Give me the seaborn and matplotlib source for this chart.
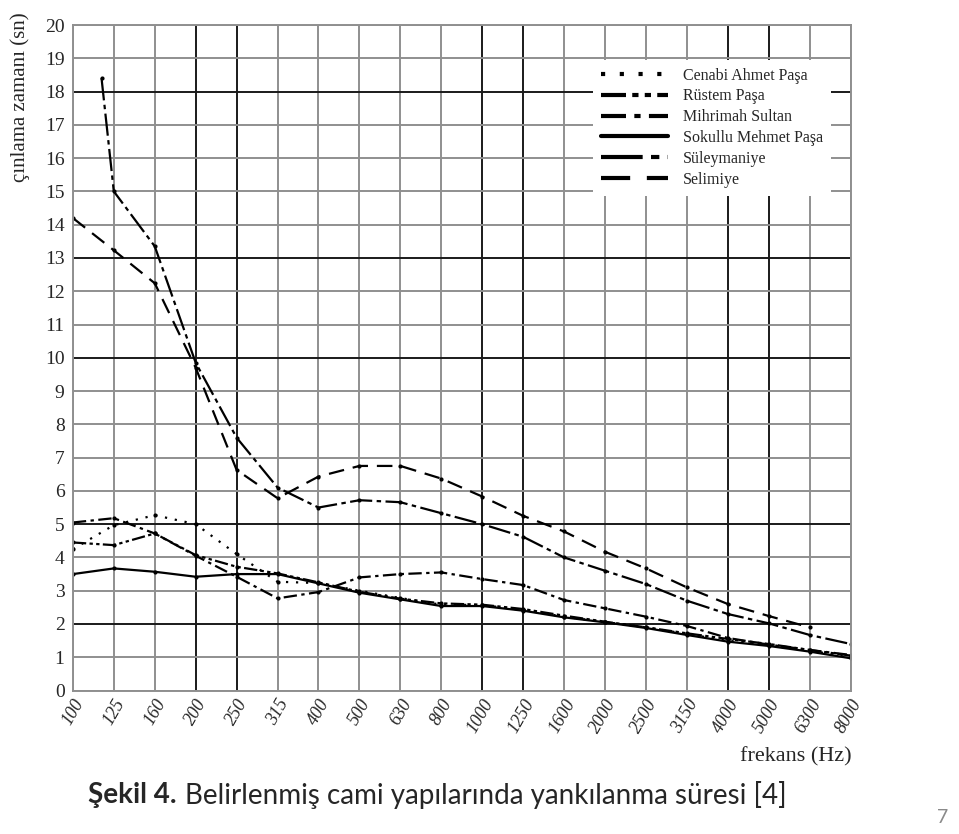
import numpy as np
import matplotlib.pyplot as plt
from matplotlib.lines import Line2D
import seaborn as sns

freqs = ['100', '125', '160', '200', '250', '315', '400', '500', '630', '800',
         '1000', '1250', '1600', '2000', '2500', '3150', '4000', '5000', '6300', '8000']

cenabi = [4.25, 4.97, 5.27, 5.0, 4.1, 3.27, 3.23, 3.0, 2.78, 2.58,
          2.57, 2.42, 2.22, 2.06, 1.9, 1.7, 1.5, 1.36, 1.2, 1.0]
rustem = [4.45, 4.37, 4.72, 4.07, 3.72, 3.52, 3.25, 2.97, 2.76, 2.62,
          2.58, 2.45, 2.25, 2.07, 1.9, 1.72, 1.55, 1.4, 1.22, 1.05]
mihrimah = [5.05, 5.18, 4.72, 4.05, 3.42, 2.77, 2.96, 3.4, 3.5, 3.55,
            3.35, 3.17, 2.72, 2.47, 2.22, 1.94, 1.58, 1.38, 1.22, 1.07]
sokullu = [3.5, 3.67, 3.57, 3.42, 3.5, 3.5, 3.22, 2.94, 2.74, 2.54,
           2.54, 2.4, 2.2, 2.05, 1.88, 1.67, 1.47, 1.34, 1.17, 0.97]
suleymaniye = [np.nan, 15.0, 13.35, 9.85, 7.6, 6.1, 5.5, 5.72, 5.66, 5.33,
               5.0, 4.62, 4.0, 3.6, 3.2, 2.7, 2.3, 2.02, 1.67, 1.4]
# the Süleymaniye curve starts part way between 100 and 125 Hz
suleymaniye_start_pos = 0.7
suleymaniye_start_val = 18.4
selimiye = [14.2, 13.23, 12.24, 9.7, 6.63, 5.78, 6.43, 6.75, 6.75, 6.37,
            5.83, 5.25, 4.78, 4.17, 3.67, 3.1, 2.6, 2.24, 1.9, np.nan]

names = ['Cenabi Ahmet Paşa', 'Rüstem Paşa', 'Mihrimah Sultan',
         'Sokullu Mehmet Paşa', 'Süleymaniye', 'Selimiye']
styles = [(0, (1, 3.5)), (0, (6, 1.5, 1.5, 1.5, 1.5, 1.5)), (0, (6, 2, 1.5, 2)),
          '-', (0, (10, 2, 2, 2)), (0, (7, 4))]

sns.set_style('white')
plt.rcParams['font.family'] = ['Liberation Serif', 'DejaVu Serif']

fig = plt.figure(figsize=(9.59, 8.34), dpi=100)
ax = fig.add_axes([0.076, 0.172, 0.811, 0.798])

pos = np.arange(len(freqs))
series = [cenabi, rustem, mihrimah, sokullu, suleymaniye, selimiye]
for name, vals, ls in zip(names, series, styles):
    x = list(pos)
    y = list(vals)
    if name == 'Süleymaniye':
        x = [suleymaniye_start_pos] + x[1:]
        y = [suleymaniye_start_val] + y[1:]
    sns.lineplot(x=x, y=y, ax=ax, color='black', linestyle=ls, lw=1.6,
                 marker='o', markersize=3, markeredgewidth=0, legend=False)

ax.set_xlim(0, len(freqs) - 1)
ax.set_ylim(0, 20)
ax.set_xticks(pos)
ax.set_xticklabels(freqs, rotation=60, ha='right', va='top',
                   rotation_mode='anchor', fontstyle='italic', fontsize=13)
ax.set_yticks(range(0, 21))
ax.tick_params(axis='y', labelsize=14, length=0, pad=6)
ax.tick_params(axis='x', length=0, pad=4)

dark_x = ['200', '250', '1000', '1250', '4000', '5000']
for i, f in enumerate(freqs):
    c = '#1a1a1a' if f in dark_x else '#8f8f8f'
    ax.axvline(i, color=c, lw=1.4, zorder=0)
for v in range(0, 21):
    c = '#1a1a1a' if v in (2, 5, 10, 13, 18) else '#8f8f8f'
    ax.axhline(v, color=c, lw=1.4, zorder=0)
for s in ax.spines.values():
    s.set_color('#8f8f8f')
    s.set_linewidth(1.4)

handles = [Line2D([], [], color='black', linestyle=ls, lw=3) for ls in styles]
leg = ax.legend(handles, names, loc='upper right', bbox_to_anchor=(0.985, 0.96),
                frameon=True, fancybox=False, edgecolor='white', framealpha=1,
                fontsize=11.5, handlelength=4.2, labelspacing=0.3,
                borderpad=0.5, handletextpad=0.9)
leg.get_frame().set_linewidth(0)

fig.text(0.021, 0.985, 'çınlama zamanı (sn)', rotation=90, ha='center', va='top',
         fontsize=15)
fig.text(0.888, 0.092, 'frekans (Hz)', ha='right', va='center', fontsize=16)

cap_font = ['Lato', 'DejaVu Sans']
bold = fig.text(0.092, 0.047, 'Şekil 4.', ha='left', va='center', fontsize=20,
                fontweight='bold', family=cap_font)
fig.canvas.draw()
bb = bold.get_window_extent().transformed(fig.transFigure.inverted())
fig.text(bb.x1 + 0.008, 0.047, 'Belirlenmiş cami yapılarında yankılanma süresi [4]',
         ha='left', va='center', fontsize=20, family=cap_font)
fig.text(0.989, 0.01, '7', ha='right', va='bottom', fontsize=14, color='#8a8a8a',
         family=cap_font)

fig.savefig('out.png', dpi=100, facecolor='white')
